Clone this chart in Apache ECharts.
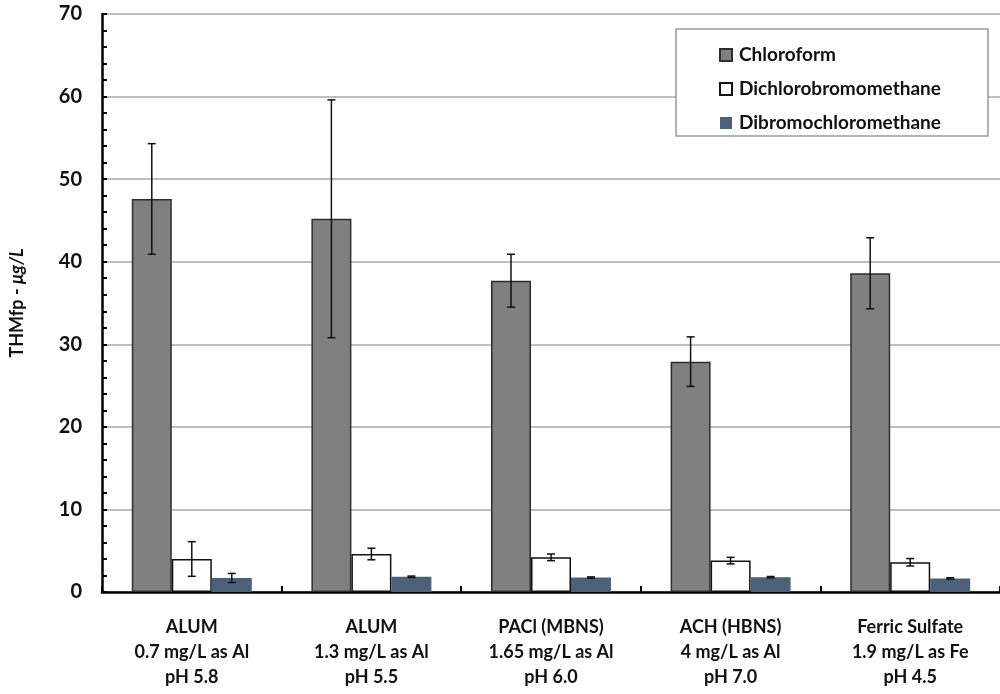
<!DOCTYPE html>
<html>
<head>
<meta charset="utf-8">
<title>THM formation potential by coagulant</title>
<script src="https://cdn.jsdelivr.net/npm/echarts@6/dist/echarts.min.js"></script>
<style>
  html, body { margin: 0; padding: 0; background: #fff; }
  #chart { width: 1000px; height: 694px; }
</style>
</head>
<body>
<div id="chart"></div>
<script>
// Coagulant treatments (x categories)
const categories = [
  'ALUM\n0.7 mg/L as Al\npH 5.8',
  'ALUM\n1.3 mg/L as Al\npH 5.5',
  'PACl (MBNS)\n1.65 mg/L as Al\npH 6.0',
  'ACH (HBNS)\n4 mg/L as Al\npH 7.0',
  'Ferric Sulfate\n1.9 mg/L as Fe\npH 4.5'
];
const seriesNames = ['Chloroform', 'Dichlorobromomethane', 'Dibromochloromethane'];

// Mean THM formation potential (µg/L)
const chloroform = [47.6, 45.2, 37.7, 27.9, 38.6];
const dichlorobromomethane = [4.0, 4.6, 4.2, 3.8, 3.6];
const dibromochloromethane = [1.7, 1.85, 1.75, 1.8, 1.65];

// Error bar half-widths (µg/L)
const chloroformErr = [6.7, 14.4, 3.2, 3.0, 4.3];
const dichlorobromomethaneErr = [2.1, 0.7, 0.4, 0.4, 0.45];
const dibromochloromethaneErr = [0.55, 0.08, 0.08, 0.08, 0.08];

// Y axis ticks
const yMin = 0, yMax = 70, yStep = 10;

const FONT = 'Lato, "Open Sans", sans-serif';
const TEXT = '#111111';
const BAR_W = 40;

const means = [chloroform, dichlorobromomethane, dibromochloromethane];
const errs = [chloroformErr, dichlorobromomethaneErr, dibromochloromethaneErr];
const fills = ['#808080', '#ffffff', '#4b6079'];
const borders = ['#2e2e2e', '#111111', '#4b6079'];
const borderWidths = [1.5, 1.5, 0];

const barSeries = seriesNames.map((name, s) => ({
  name: name,
  type: 'bar',
  barWidth: BAR_W,
  barGap: '0%',
  data: means[s],
  itemStyle: { color: fills[s], borderColor: borders[s], borderWidth: borderWidths[s] },
  z: 2
}));

// Error bars: one custom series per compound, offset to sit on its bar
const errSeries = seriesNames.map((name, s) => ({
  name: name + ' error',
  type: 'custom',
  z: 5,
  silent: true,
  encode: { x: 0, y: [1, 2] },
  data: means[s].map((m, i) => [i, m - errs[s][i], m + errs[s][i]]),
  renderItem: function (params, api) {
    const offset = (s - 1) * BAR_W;
    const lo = api.coord([api.value(0), api.value(1)]);
    const hi = api.coord([api.value(0), api.value(2)]);
    const x = lo[0] + offset;
    const cap = 4;
    const style = { stroke: '#111', lineWidth: 1.5 };
    return {
      type: 'group',
      children: [
        { type: 'line', shape: { x1: x, y1: lo[1], x2: x, y2: hi[1] }, style: style },
        { type: 'line', shape: { x1: x - cap, y1: lo[1], x2: x + cap, y2: lo[1] }, style: style },
        { type: 'line', shape: { x1: x - cap, y1: hi[1], x2: x + cap, y2: hi[1] }, style: style }
      ]
    };
  }
}));

const chart = echarts.init(document.getElementById('chart'));
chart.setOption({
  animation: false,
  backgroundColor: '#ffffff',
  grid: { left: 101, right: 0, top: 14, bottom: 102, containLabel: false },
  xAxis: {
    type: 'category',
    data: categories,
    axisLine: { lineStyle: { color: '#000', width: 2.5 } },
    axisTick: { show: true, inside: true, length: 6, lineStyle: { color: '#000', width: 2 } },
    axisLabel: {
      interval: 0,
      margin: 23,
      fontFamily: FONT,
      fontWeight: 'bold',
      fontSize: 18,
      lineHeight: 25,
      color: TEXT
    }
  },
  yAxis: {
    type: 'value',
    min: yMin,
    max: yMax,
    interval: yStep,
    name: 'THMfp - {it|μg/L}',
    nameLocation: 'middle',
    nameRotate: 90,
    nameGap: 76,
    nameTextStyle: {
      fontFamily: FONT, fontWeight: 'bold', fontSize: 18, color: TEXT,
      rich: { it: { fontFamily: FONT, fontWeight: 'bold', fontStyle: 'italic', fontSize: 18, color: TEXT } }
    },
    axisLine: { show: true, lineStyle: { color: '#000', width: 2.5 } },
    axisTick: { show: true, inside: true, length: 5, lineStyle: { color: '#000', width: 2 } },
    minorTick: { show: true, splitNumber: 5, length: 5, lineStyle: { color: '#000', width: 2 } },
    axisLabel: { margin: 20, fontFamily: FONT, fontWeight: 'bold', fontSize: 20, color: TEXT },
    splitLine: { show: true, lineStyle: { color: '#a8a8a8', width: 1.5 } }
  },
  legend: {
    data: seriesNames,
    orient: 'vertical',
    left: 714,
    top: 39,
    itemWidth: 12,
    itemHeight: 12,
    itemGap: 12,
    icon: 'rect',
    z: 11,
    selectedMode: false,
    textStyle: { fontFamily: FONT, fontWeight: 'bold', fontSize: 19, lineHeight: 22, color: TEXT, padding: [0, 0, 0, 2] }
  },
  graphic: [{
    type: 'rect',
    z: 10,
    shape: { x: 676, y: 29, width: 312, height: 107 },
    style: { fill: '#fff', stroke: '#9a9a9a', lineWidth: 1.5 }
  }],
  series: barSeries.concat(errSeries)
});
</script>
</body>
</html>
